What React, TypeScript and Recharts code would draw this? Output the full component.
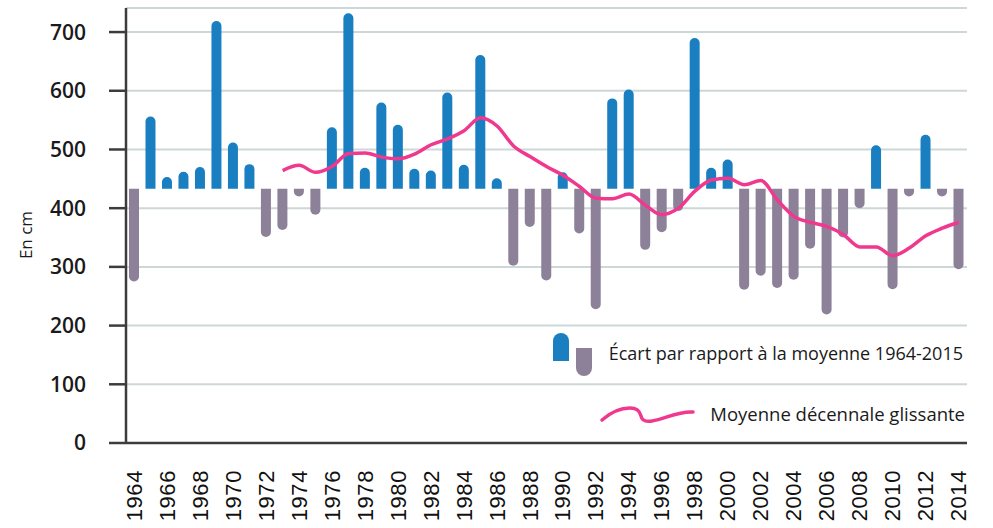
import { ComposedChart, Bar, Line, XAxis, YAxis, CartesianGrid } from "recharts";

const MEAN = 433;

const years = [
  1964, 1965, 1966, 1967, 1968, 1969, 1970, 1971, 1972, 1973,
  1974, 1975, 1976, 1977, 1978, 1979, 1980, 1981, 1982, 1983,
  1984, 1985, 1986, 1987, 1988, 1989, 1990, 1991, 1992, 1993,
  1994, 1995, 1996, 1997, 1998, 1999, 2000, 2001, 2002, 2003,
  2004, 2005, 2006, 2007, 2008, 2009, 2010, 2011, 2012, 2013, 2014,
];

// hauteur annuelle (cm)
const heights = [
  275, 556, 453, 462, 470, 719, 512, 475, 351, 363,
  420, 389, 538, 732, 469, 580, 542, 467, 464, 597,
  474, 661, 451, 302, 368, 277, 461, 357, 228, 587,
  602, 329, 359, 395, 690, 469, 483, 261, 285, 264,
  278, 331, 219, 350, 400, 507, 262, 420, 525, 420, 296,
];

// moyenne décennale glissante
const rolling = [
  null, null, null, null, null, null, null, null, null, 464,
  473, 461, 471, 493, 494, 487, 484, 492, 508, 518,
  532, 554, 540, 506, 488, 471, 456, 437, 417, 416,
  424, 405, 389, 400, 429, 448, 451, 440, 447, 414,
  386, 376, 369, 355, 334, 334, 319, 332, 353, 366, 376,
];

const yTicks = [0, 100, 200, 300, 400, 500, 600, 700];

const BLUE = "#1a7fc0";
const MAUVE = "#8d8199";
const PINK = "#f0388e";
const AXIS = "#3c3c3c";

const data = years.map((year, i) => ({
  year,
  value: heights[i],
  range: [MEAN, heights[i]],
  avg: rolling[i],
}));

function RoundBar(props: any) {
  const { x, y, width, height, payload } = props;
  if (x == null || y == null) return null;
  const top = Math.min(y, y + height);
  const h = Math.abs(height);
  const r = Math.min(width / 2, h);
  const above = payload.value >= MEAN;
  const w = width;
  let d: string;
  if (above) {
    d = `M${x},${top + h} L${x},${top + r} A${r},${r} 0 0 1 ${x + w},${top + r} L${x + w},${top + h} Z`;
  } else {
    d = `M${x},${top} L${x + w},${top} L${x + w},${top + h - r} A${r},${r} 0 0 1 ${x},${top + h - r} Z`;
  }
  return <path d={d} fill={above ? BLUE : MAUVE} />;
}

function YearTick(props: any) {
  const { x, y, payload } = props;
  return (
    <text
      x={x}
      y={y}
      transform={`rotate(-90 ${x} ${y})`}
      textAnchor="end"
      dominantBaseline="central"
      fontFamily="'Liberation Sans', Arial, sans-serif"
      fontSize={22}
      letterSpacing={0.6}
      fill="#111"
    >
      {payload.value}
    </text>
  );
}

export default function App() {
  return (
    <div style={{ position: "absolute", left: 0, top: 0, width: 993, height: 528, background: "#fff" }}>
      <ComposedChart
        width={993}
        height={528}
        data={data}
        margin={{ top: 8, right: 26, bottom: 5, left: 26 }}
        barSize={10}
      >
        <CartesianGrid vertical={false} stroke="#cdd7d7" strokeWidth={2} />
        <XAxis
          dataKey="year"
          interval={1}
          height={80}
          tickLine={false}
          tickSize={0}
          tickMargin={27}
          axisLine={{ stroke: AXIS, strokeWidth: 2.5 }}
          tick={<YearTick />}
        />
        <YAxis
          width={100}
          domain={[0, 741]}
          ticks={yTicks}
          tickSize={17}
          tickMargin={23}
          axisLine={{ stroke: AXIS, strokeWidth: 2.5 }}
          tickLine={{ stroke: AXIS, strokeWidth: 2.5 }}
          tick={{ fontFamily: "'Open Sans', sans-serif", fontSize: 21, fontWeight: 600, fill: "#1a1a1a" }}
        />
        <Bar dataKey="range" shape={<RoundBar />} isAnimationActive={false} />
        <Line
          dataKey="avg"
          type="monotone"
          stroke={PINK}
          strokeWidth={3.5}
          dot={false}
          activeDot={false}
          connectNulls={false}
          isAnimationActive={false}
        />
      </ComposedChart>

      <svg
        width={993}
        height={528}
        style={{ position: "absolute", left: 0, top: 0, pointerEvents: "none" }}
      >
        <text
          transform="rotate(-90 25 235)"
          x={25}
          y={235}
          textAnchor="middle"
          dominantBaseline="central"
          fontFamily="'Open Sans', sans-serif"
          fontSize={17}
          fill="#1a1a1a"
        >
          En cm
        </text>
        <path d="M553,361 L553,341 A8,8 0 0 1 569,341 L569,361 Z" fill={BLUE} />
        <path d="M576,348 L592,348 L592,368 A8,8 0 0 1 576,368 Z" fill={MAUVE} />
        <text
          x={963}
          y={353}
          textAnchor="end"
          dominantBaseline="central"
          fontFamily="'Open Sans', sans-serif"
          fontSize={18}
          fill="#1a1a1a"
        >
          Écart par rapport à la moyenne 1964-2015
        </text>
        <path
          d="M602,420 C610,413 620,408 630,408 C638,408 640,412 641,416 C642,421 646,422 652,421 C665,419 678,411 693,412"
          fill="none"
          stroke={PINK}
          strokeWidth={3.5}
          strokeLinecap="round"
        />
        <text
          x={965}
          y={413}
          textAnchor="end"
          dominantBaseline="central"
          fontFamily="'Open Sans', sans-serif"
          fontSize={18.5}
          fill="#1a1a1a"
        >
          Moyenne décennale glissante
        </text>
      </svg>
    </div>
  );
}
